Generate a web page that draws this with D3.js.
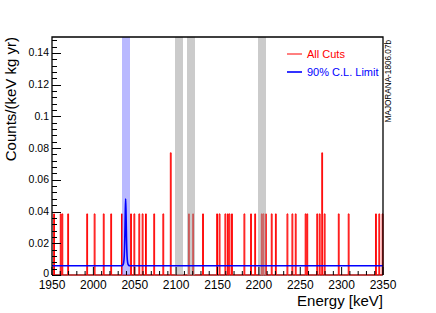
<!DOCTYPE html>
<html><head><meta charset="utf-8">
<script src="https://cdn.jsdelivr.net/npm/d3@7"></script>
<style>
html,body{margin:0;padding:0;background:#fff;}
svg{display:block;font-family:"Liberation Sans",Arial,Helvetica,sans-serif;}
</style></head>
<body>
<svg id="c" width="436" height="313"></svg>
<script>
// ---- data ----
const xDomain = [1950, 2350];
const yDomain = [0, 0.15];
const xMajorTicks = [1950, 2000, 2050, 2100, 2150, 2200, 2250, 2300, 2350];
const yMajorTicks = [0, 0.02, 0.04, 0.06, 0.08, 0.1, 0.12, 0.14];
const yTickLabels = ["0", "0.02", "0.04", "0.06", "0.08", "0.1", "0.12", "0.14"];
// red histogram: 1-keV bins with events (bin low edge) and bin contents
const eventEnergies = [1952,1960,1962,1969,1992,2001,2012,2021,2034,2045,2049,2055,2059,2063,2073,2084,2093,
  2115,2120,2132,2149,2152,2159,2162,2164,2167,2182,2190,2195,2203,2205,2208,2215,2220,2234,2240,2244,
  2256,2258,2270,2273,2276,2279,2296,2308,2341,2345,2349];
const eventValues = [0.0385,0.0385,0.0385,0.0385,0.0385,0.0385,0.0385,0.0385,0.0385,0.0385,0.0385,0.0385,0.0385,0.0385,0.0385,0.0385,0.077,
  0.0385,0.0385,0.0385,0.0385,0.0385,0.0385,0.0385,0.0385,0.0385,0.0385,0.0385,0.0385,0.0385,0.0385,0.0385,0.0385,0.0385,0.0385,0.0385,0.0385,
  0.0385,0.0385,0.0385,0.0385,0.077,0.0385,0.0385,0.0385,0.0385,0.0385,0.0385];
// 90% C.L. limit curve
const limitE = [1950,2034,2035.5,2036.5,2037.3,2038,2038.5,2039,2039.5,2040,2040.7,2041.5,2042.5,2044,2350];
const limitV = [0.0058,0.0058,0.0062,0.0075,0.012,0.024,0.038,0.048,0.038,0.024,0.012,0.0075,0.0062,0.0058,0.0058];
// excluded / ROI bands
const bandLo = [2034, 2098.5, 2113, 2199];
const bandHi = [2044, 2108.5, 2123, 2209];
const bandKind = ["blue", "gray", "gray", "gray"];

// ---- layout ----
const L = 52, R = 383, T = 37, B = 275;
const svg = d3.select("#c");
const x = d3.scaleLinear().domain(xDomain).range([L, R]);
const y = d3.scaleLinear().domain(yDomain).range([B, T]);

// bottom axis line (under histogram)
svg.append("line").attr("x1",L).attr("x2",R).attr("y1",B).attr("y2",B)
  .attr("stroke","#000").attr("stroke-width",1.2);

// histogram
const counts = new Map(eventEnergies.map((e,i)=>[e, eventValues[i]]));
const pts = [];
for (let e = xDomain[0]; e < xDomain[1]; e++) pts.push([e, counts.get(e) || 0]);
pts.push([xDomain[1], pts[pts.length-1][1]]);
const hline = d3.line().x(d=>x(d[0])).y(d=>y(d[1])).curve(d3.curveStepAfter);
const hp = [[xDomain[0],0], ...pts, [xDomain[1],0]];
svg.append("path").attr("d", hline(hp)).attr("fill","none")
  .attr("stroke","#ff0000").attr("stroke-width",1);

// bands (semi-transparent, like ROOT's dotted fill)
svg.selectAll("rect.band").data(bandLo).join("rect").attr("class","band")
  .attr("x", (d,i)=>Math.round(x(d)))
  .attr("width", (d,i)=>Math.round(x(bandHi[i]) - x(d)))
  .attr("y", T).attr("height", B-T)
  .attr("shape-rendering","crispEdges")
  .attr("fill", (d,i)=> bandKind[i]==="blue" ? "rgb(120,120,255)" : "rgb(160,160,160)")
  .attr("fill-opacity", (d,i)=> bandKind[i]==="blue" ? 0.52 : 0.55);

// limit curve
const lim = limitE.map((e,i)=>[e, limitV[i]]);
svg.append("path").attr("d", d3.line().x(d=>x(d[0])).y(d=>y(d[1])).curve(d3.curveMonotoneX)(lim))
  .attr("fill","none").attr("stroke","#0000ff").attr("stroke-width",1.6);

// ticks
const xMinor = d3.range(1950, 2351, 10);
svg.selectAll("line.xt").data(xMinor).join("line").attr("class","xt")
  .attr("x1", d=>x(d)).attr("x2", d=>x(d))
  .attr("y1", B).attr("y2", d=> B - (xMajorTicks.includes(d) ? 8 : 4))
  .attr("stroke","#000").attr("stroke-width",1);
const yMinor = d3.range(0, 0.1501, 0.004);
svg.selectAll("line.yt").data(yMinor).join("line").attr("class","yt")
  .attr("y1", d=>Math.round(y(d))+0.5).attr("y2", d=>Math.round(y(d))+0.5)
  .attr("x1", L).attr("x2", d=> L + (Math.abs(d/0.02 - Math.round(d/0.02))<1e-6 ? 9 : 5))
  .attr("stroke","#000").attr("stroke-width",1);

// frame lines
svg.append("path").attr("d", `M${L},${B}V${T}H${R}V${B}`).attr("fill","none")
  .attr("stroke","#000").attr("stroke-width",1.3);

// tick labels
svg.selectAll("text.xl").data(xMajorTicks).join("text").attr("class","xl")
  .attr("x", d=>x(d)).attr("y", 289).attr("text-anchor","middle")
  .attr("font-size", 12).text(d=>d);
svg.selectAll("text.yl").data(yMajorTicks).join("text").attr("class","yl")
  .attr("x", 49).attr("y", (d,i)=>y(d)+ (i===0 ? 1.5 : 3.6)).attr("text-anchor","end")
  .attr("font-size", 10.5).text((d,i)=>yTickLabels[i]);

// axis titles
svg.append("text").attr("x", R).attr("y", 306).attr("text-anchor","end")
  .attr("font-size", 15).text("Energy [keV]");
svg.append("text").attr("transform", `translate(16,${T}) rotate(-90)`).attr("text-anchor","end")
  .attr("font-size", 15).text("Counts/(keV kg yr)");
svg.append("text").attr("transform", `translate(391,${T+3}) rotate(-90)`).attr("text-anchor","end")
  .attr("font-size", 8.2).text("MAJORANA-1806.07b");

// legend
const legNames = ["All Cuts", "90% C.L. Limit"];
const legCols = ["#ff0000", "#0000ff"];
const legY = [54, 72];
legNames.forEach((n,i)=>{
  svg.append("line").attr("x1",287).attr("x2",302).attr("y1",legY[i]).attr("y2",legY[i])
    .attr("stroke",legCols[i]).attr("stroke-width", i===0?1:1.6);
  svg.append("text").attr("x",307).attr("y",legY[i]+4).attr("font-size",11)
    .attr("fill",legCols[i]).text(n);
});
</script>
</body></html>
